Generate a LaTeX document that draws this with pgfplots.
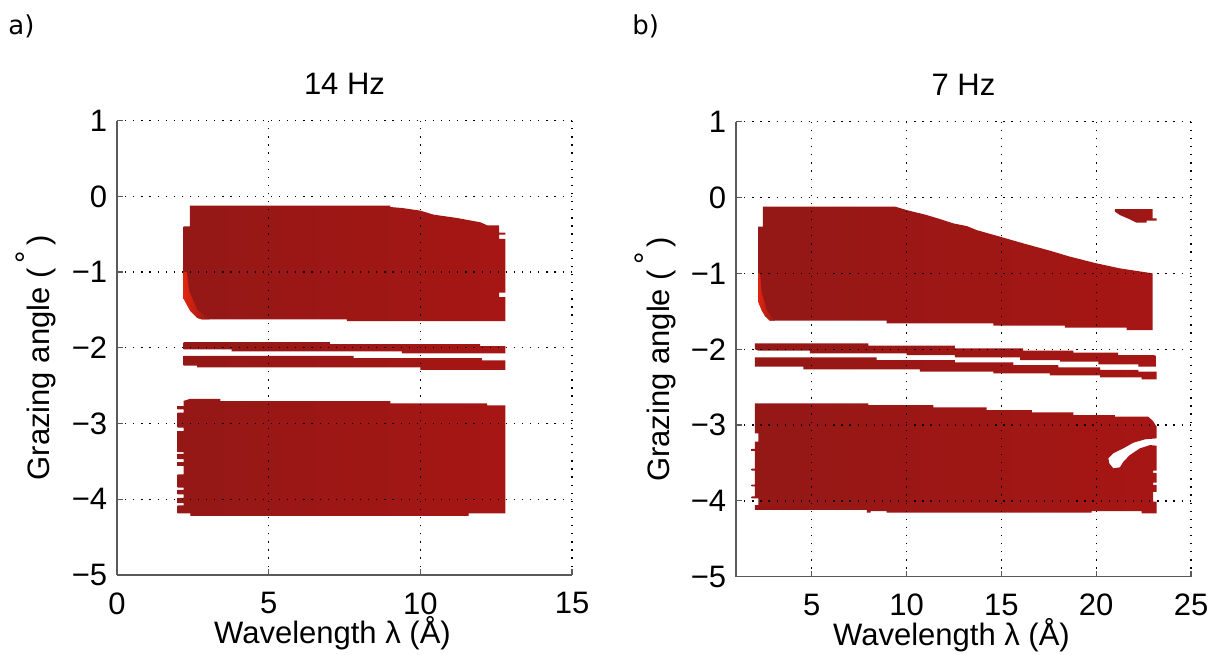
\documentclass[border=0pt]{standalone}
\usepackage{fontspec}
\setmainfont{Liberation Sans}
\newfontfamily\panelfont{DejaVu Sans}
\usepackage{pgfplots}
\pgfplotsset{compat=1.18}

\definecolor{bandred}{RGB}{148,24,22}
\definecolor{bandredR}{RGB}{166,22,20}
\definecolor{edgered}{RGB}{240,40,15}
\definecolor{axisgray}{RGB}{90,90,90}

\newcommand{\lblfont}{\fontsize{15.5bp}{18bp}\selectfont}

\pgfplotsset{
  reflpanel/.style={
    scale only axis,
    width=227.5bp,
    ymin=-5, ymax=1,
    ytick={-5,-4,-3,-2,-1,0,1},
    yticklabels={−5,−4,−3,−2,−1,0,1},
    axis x line=bottom, axis y line=left,
    axis line style={-, draw=axisgray, line width=0.6bp},
    tick align=inside, major tick length=3bp,
    tick style={draw=axisgray, line width=0.6bp},
    grid=major,
    major grid style={black, line width=0.65bp, dash pattern=on 0.65bp off 3.4bp},
    axis on top,
    tick label style={font=\lblfont, inner sep=0pt},
    xticklabel style={anchor=north, yshift=-8.5bp},
    yticklabel style={anchor=east, xshift=-4.75bp},
    every axis title/.style={at={([yshift=13bp]rel axis cs:0.5,1)}, anchor=base, inner sep=0pt, font=\lblfont},
    every axis x label/.style={at={([xshift=-6bp,yshift=-34.5bp]rel axis cs:0.5,0)}, anchor=base, inner sep=0pt, font=\lblfont},
    every axis y label/.style={at={([xshift=-33.5bp]rel axis cs:0,0.478)}, rotate=90, anchor=base, inner sep=0pt, font=\lblfont},
    xlabel={Wavelength λ (Å)},
    ylabel={Grazing angle (\,\raisebox{0.4em}{°}\,)},
  },
  block/.style={draw=none, left color=bandred, right color=bandredR},
  edge/.style={draw=none, left color=edgered, right color=bandred, fill opacity=0.85},
}

\begin{document}
\begin{tikzpicture}
\path[use as bounding box] (0,0) rectangle (606.5bp,327.5bp);

\node[anchor=base west, inner sep=0pt] at (4bp,310bp) {\panelfont\fontsize{13bp}{15bp}\selectfont a)};
\node[anchor=base west, inner sep=0pt] at (316bp,310bp) {\panelfont\fontsize{13bp}{15bp}\selectfont b)};

% ---------------- a) 14 Hz ----------------
\begin{axis}[reflpanel,
  at={(58.5bp,40bp)}, anchor=south west, height=227.2bp,
  xmin=0, xmax=15, xtick={0,5,10,15}, xticklabels={0,5,10,15},
  title={14 Hz}]
% upper block
\addplot[block] coordinates {
 (2.40,-0.123) (9.01,-0.123) (9.01,-0.141) (9.40,-0.154) (10.0,-0.189)
 (10.44,-0.242) (11.21,-0.286) (11.98,-0.343) (12.2,-0.382) (12.6,-0.382)
 (12.6,-0.48) (12.8,-0.48) (12.8,-0.505) (12.6,-0.505) (12.6,-0.563)
 (12.8,-0.563) (12.8,-1.27) (12.6,-1.27) (12.6,-1.33) (12.8,-1.33)
 (12.8,-1.648) (7.58,-1.648) (7.58,-1.626) (2.80,-1.626) (2.64,-1.604)
 (2.42,-1.516) (2.20,-1.354) (2.20,-0.396) (2.40,-0.396) (2.40,-0.123)};
\addplot[edge] coordinates {
 (2.20,-1.00) (2.20,-1.354) (2.42,-1.516) (2.64,-1.604) (2.80,-1.626)
 (3.05,-1.626) (2.65,-1.50) (2.38,-1.25) (2.30,-1.00) (2.20,-1.00)};
% upper band
\addplot[block] coordinates {
 (2.2,-1.925) (7.02,-1.925) (7.02,-1.951) (11.97,-1.951) (11.97,-1.978)
 (12.8,-1.978) (12.8,-2.075) (9.39,-2.075) (9.39,-2.048) (3.78,-2.048)
 (3.78,-2.02) (2.2,-2.02) (2.2,-1.925)};
% lower band
\addplot[block] coordinates {
 (2.2,-2.105) (7.8,-2.105) (7.8,-2.136) (12.03,-2.136) (12.03,-2.167)
 (12.8,-2.167) (12.8,-2.29) (10.0,-2.29) (10.0,-2.26) (2.64,-2.26)
 (2.64,-2.235) (2.2,-2.235) (2.2,-2.105)};
% lower block
\addplot[block] coordinates {
 (2.2,-2.70) (2.42,-2.673) (3.41,-2.673) (3.41,-2.703) (9.01,-2.703)
 (9.01,-2.734) (12.2,-2.734) (12.2,-2.76) (12.8,-2.76) (12.8,-4.185)
 (11.59,-4.185) (11.59,-4.22) (2.42,-4.22) (2.42,-4.185) (2.0,-4.185)
 (2.0,-4.08) (2.2,-4.08) (2.2,-4.05) (2.0,-4.05) (2.0,-3.98)
 (2.2,-3.98) (2.2,-3.934) (2.0,-3.934) (2.0,-3.877) (2.2,-3.877)
 (2.2,-3.846) (2.0,-3.846) (2.0,-3.67) (2.2,-3.67) (2.2,-3.56)
 (2.0,-3.56) (2.0,-3.51) (2.2,-3.51) (2.2,-3.47) (2.0,-3.47)
 (2.0,-3.40) (2.2,-3.40) (2.2,-3.376) (2.0,-3.376) (2.0,-3.10)
 (2.2,-3.10) (2.2,-3.055) (2.0,-3.055) (2.0,-2.857) (2.2,-2.857)
 (2.2,-2.813) (2.0,-2.813) (2.0,-2.77) (2.2,-2.77) (2.2,-2.70)};
\end{axis}

% ---------------- b) 7 Hz ----------------
\begin{axis}[reflpanel,
  at={(368bp,39.15bp)}, anchor=south west, height=227.5bp,
  xmin=1, xmax=25, xtick={5,10,15,20,25}, xticklabels={5,10,15,20,25},
  title={7 Hz}]
% upper block
\addplot[block] coordinates {
 (2.42,-0.12) (9.39,-0.12) (10.0,-0.165) (11.06,-0.231) (11.76,-0.284)
 (12.46,-0.341) (13.17,-0.376) (13.69,-0.429) (14.92,-0.516) (16.15,-0.604)
 (17.56,-0.701) (18.62,-0.78) (20.02,-0.868) (21.25,-0.934) (22.40,-0.978)
 (22.98,-1.0) (22.98,-1.747) (21.60,-1.747) (21.60,-1.716) (18.35,-1.716)
 (18.35,-1.69) (14.57,-1.69) (14.57,-1.659) (8.95,-1.659) (8.95,-1.624)
 (2.79,-1.624) (2.53,-1.563) (2.35,-1.484) (2.17,-1.374) (2.17,-0.385)
 (2.42,-0.385) (2.42,-0.12)};
\addplot[edge] coordinates {
 (2.17,-1.00) (2.17,-1.374) (2.35,-1.484) (2.53,-1.563) (2.79,-1.624)
 (3.05,-1.624) (2.65,-1.50) (2.35,-1.25) (2.27,-1.00) (2.17,-1.00)};
% small patch, top right
\addplot[block] coordinates {
 (20.99,-0.152) (22.98,-0.152) (22.98,-0.275) (23.19,-0.275) (23.19,-0.305)
 (22.66,-0.305) (22.66,-0.332) (22.13,-0.332) (21.78,-0.288) (21.25,-0.231)
 (20.99,-0.187) (20.99,-0.152)};
% upper band
\addplot[block] coordinates {
 (2.0,-1.923) (7.98,-1.923) (7.98,-1.954) (12.55,-1.954) (12.55,-1.988)
 (16.15,-1.988) (16.15,-2.02) (18.79,-2.02) (18.79,-2.046) (21.16,-2.046)
 (21.16,-2.077) (23.01,-2.077) (23.19,-2.09) (23.19,-2.231) (22.22,-2.231)
 (22.22,-2.20) (20.11,-2.20) (20.11,-2.165) (18.09,-2.165) (18.09,-2.143)
 (15.98,-2.143) (15.98,-2.107) (12.55,-2.107) (12.55,-2.077) (10.0,-2.077)
 (10.0,-2.055) (4.90,-2.055) (4.90,-2.02) (2.18,-2.02) (2.0,-2.0)
 (2.0,-1.923)};
% lower band
\addplot[block] coordinates {
 (2.0,-2.107) (8.42,-2.107) (8.42,-2.143) (12.55,-2.143) (12.55,-2.173)
 (15.63,-2.173) (15.63,-2.209) (18.0,-2.209) (18.0,-2.239) (20.2,-2.239)
 (20.2,-2.274) (22.22,-2.274) (22.22,-2.297) (23.19,-2.297) (23.19,-2.398)
 (22.4,-2.398) (22.4,-2.371) (20.2,-2.371) (20.2,-2.345) (17.56,-2.345)
 (17.56,-2.319) (14.57,-2.319) (14.57,-2.297) (10.7,-2.297) (10.7,-2.266)
 (4.55,-2.266) (4.55,-2.231) (2.0,-2.231) (2.0,-2.107)};
% lower block with the crescent-shaped gap on the right
\addplot[block] coordinates {
 (2.0,-2.714) (7.98,-2.714) (7.98,-2.736) (11.41,-2.736) (11.41,-2.766)
 (14.22,-2.766) (14.22,-2.802) (16.6,-2.802) (16.6,-2.832) (18.8,-2.832)
 (18.8,-2.868) (20.99,-2.868) (20.99,-2.89) (22.75,-2.89) (23.0,-2.95)
 (23.19,-3.022) (23.19,-3.175) (22.57,-3.189) (21.96,-3.233) (21.43,-3.307)
 (20.90,-3.373) (20.64,-3.439) (20.69,-3.505) (20.90,-3.571) (21.25,-3.558)
 (21.43,-3.484) (21.78,-3.395) (22.31,-3.307) (22.84,-3.264) (23.19,-3.273)
 (23.19,-3.60) (23.0,-3.60) (23.0,-3.63) (23.19,-3.63) (23.19,-3.76)
 (23.0,-3.76) (23.0,-3.79) (23.19,-3.79) (23.19,-3.88) (23.0,-3.88)
 (23.0,-4.01) (23.19,-4.01) (23.19,-4.164) (22.4,-4.164) (22.4,-4.134)
 (19.76,-4.134) (19.76,-4.156) (8.95,-4.156) (8.95,-4.134) (8.1,-4.134)
 (8.1,-4.156) (7.9,-4.156) (7.9,-4.12) (2.0,-4.12) (2.0,-4.055)
 (2.18,-4.055) (2.18,-3.967) (1.83,-3.967) (1.83,-3.94) (2.0,-3.94)
 (2.0,-3.81) (1.83,-3.81) (1.83,-3.785) (2.0,-3.785) (2.0,-3.60)
 (1.83,-3.60) (1.83,-3.575) (2.0,-3.575) (2.0,-3.34) (1.83,-3.34)
 (1.83,-3.315) (2.0,-3.315) (2.0,-3.22) (2.18,-3.22) (2.18,-3.11)
 (2.0,-3.11) (2.0,-2.714)};
\end{axis}
\end{tikzpicture}
\end{document}
